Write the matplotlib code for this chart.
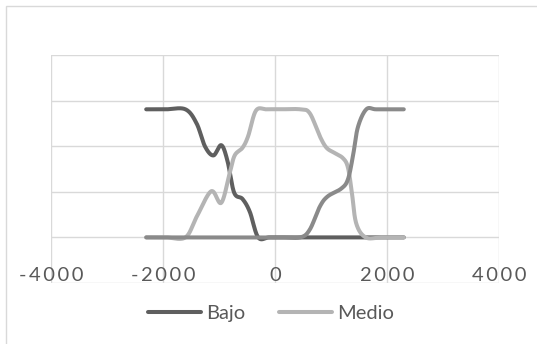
import numpy as np
import matplotlib
matplotlib.use("Agg")
import matplotlib.pyplot as plt
from matplotlib.patches import Rectangle

# series values (y = 1 is the upper plateau)
bajo_x = [-2300, -1950, -1600, -1400, -1250, -1100, -960, -850, -730, -580, -450, -300,
          -100, 200, 600, 1000, 1400, 1800, 2300]
bajo_y = [1, 1, 1, 0.89, 0.71, 0.64, 0.72, 0.60, 0.35, 0.30, 0.20, 0.0,
          0, 0, 0, 0, 0, 0, 0]

medio_x = [-2300, -1950, -1600, -1400, -1140, -960, -810, -720, -580, -480, -340, -150,
           100, 450, 620, 800, 920, 1060, 1210, 1300, 1370, 1450, 1620, 1900, 2300]
medio_y = [0, 0, 0, 0.16, 0.36, 0.27, 0.50, 0.64, 0.70, 0.79, 0.99, 1,
           1, 1, 0.97, 0.79, 0.70, 0.66, 0.62, 0.55, 0.36, 0.11, 0, 0, 0]

alto_x = [-2300, -1900, -1500, -1100, -700, -300, 100, 450, 620, 800, 940, 1180, 1300,
          1390, 1480, 1630, 1800, 2050, 2300]
alto_y = [0, 0, 0, 0, 0, 0, 0, 0, 0.06, 0.24, 0.32, 0.38, 0.45,
          0.63, 0.86, 1.0, 1, 1, 1]

x_ticks = [-4000, -2000, 0, 2000, 4000]


def smooth(xs, ys, n=30):
    # bezier smoothing through every point, tangents from the neighbours
    p = np.column_stack([xs, ys]).astype(float)
    p = np.vstack([p[0], p, p[-1]])
    t = np.linspace(0, 1, n)[:, None]
    out = []
    for i in range(1, len(p) - 2):
        a, b = p[i], p[i + 1]
        c1 = a + (p[i + 1] - p[i - 1]) / 6
        c2 = b - (p[i + 2] - p[i]) / 6
        seg = ((1 - t) ** 3) * a + 3 * ((1 - t) ** 2) * t * c1 \
            + 3 * (1 - t) * t ** 2 * c2 + t ** 3 * b
        out.append(seg if i == 1 else seg[1:])
    seg = np.vstack(out)
    return seg[:, 0], seg[:, 1]


plt.rcParams['font.family'] = ['Lato', 'DejaVu Sans']
fig = plt.figure(figsize=(5.37, 3.44), dpi=100)
fig.patches.append(Rectangle((6 / 537, -0.1), 1.2, 1 - 6 / 344 + 0.1,
                             transform=fig.transFigure, fill=False,
                             edgecolor='#d9d9d9', linewidth=1))

ax = fig.add_axes([51 / 537, 1 - 283 / 344, 448 / 537, 228 / 344])
g = 0.356
ax.set_xlim(-4000, 4000)
ax.set_ylim(-g, 4 * g)
ax.set_xticks(x_ticks)
ax.set_yticks([-g, 0, g, 2 * g, 3 * g, 4 * g])
ax.set_yticklabels([])
ax.grid(True, color='#d9d9d9', linewidth=1)
for s in ax.spines.values():
    s.set_visible(False)
ax.spines['bottom'].set_position(('data', 0))
ax.tick_params(length=0, colors='#595959', labelsize=14.5, pad=21)
ax.tick_params(axis='y', left=False)
# spaced-out digits on the value axis
ax.set_xticklabels(['\u200a\u200a'.join(str(v)) for v in x_ticks])

lw = 2.9
l1, = ax.plot(*smooth(bajo_x, bajo_y), color='#5f5f5f', lw=lw, solid_capstyle='round', label='Bajo')
l2, = ax.plot(*smooth(medio_x, medio_y), color='#b4b4b4', lw=lw, solid_capstyle='round', label='Medio')
ax.plot(*smooth(alto_x, alto_y), color='#8a8a8a', lw=lw, solid_capstyle='round')

fig.legend(handles=[l1, l2], loc='center', bbox_to_anchor=(271 / 537, 1 - 313 / 344),
           ncol=2, frameon=False, fontsize=14.5, labelcolor='#595959',
           handlelength=2.6, handletextpad=0.25, columnspacing=1.7)

fig.savefig('out.png', dpi=100)
